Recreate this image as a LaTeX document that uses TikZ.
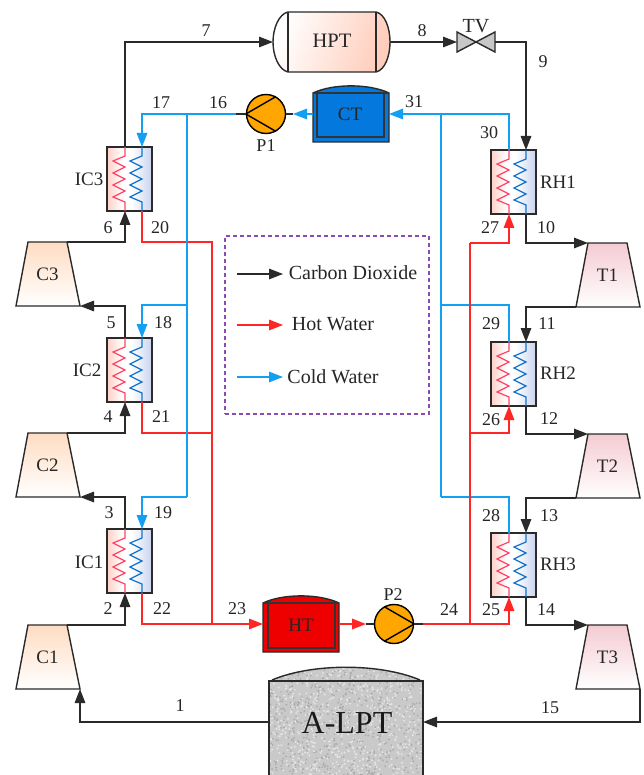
\documentclass[tikz,border=0pt]{standalone}
\usepackage{fontspec}
\setmainfont{Liberation Serif}
\usetikzlibrary{arrows.meta}
\definecolor{hotc}{HTML}{FF2626}
\definecolor{coldc}{HTML}{14A0F2}
\definecolor{inkc}{HTML}{2A2A2A}
\definecolor{coilr}{HTML}{FF4565}
\definecolor{coilb}{HTML}{1272CC}
\definecolor{purp}{HTML}{8A4BB5}
\definecolor{hxpink}{HTML}{FFCFC6}
\definecolor{hxblue}{HTML}{C8D4EE}
\pgfdeclarehorizontalshading{hxshade}{100bp}{color(0bp)=(hxpink); color(25bp)=(hxpink); color(42bp)=(white); color(52bp)=(white); color(75bp)=(hxblue); color(100bp)=(hxblue)}
\tikzset{
 co2line/.style={draw=inkc,line width=1.4pt,line join=miter},
 hotline/.style={draw=hotc,line width=1.5pt},
 coldline/.style={draw=coldc,line width=1.5pt},
 arr/.style={-{Triangle[length=14pt,width=10.5pt]}},
 lab/.style={inner sep=0pt,font=\fontsize{18}{18}\selectfont,text=black!85},
 name19/.style={inner sep=0pt,font=\fontsize{19}{19}\selectfont,text=black!85},
 name20/.style={inner sep=0pt,font=\fontsize{20}{20}\selectfont,text=black!85},
 hxbox/.style={draw=inkc,line width=1.4pt,minimum width=45pt,minimum height=64pt,inner sep=0pt,shading=hxshade},
 pump/.style={circle,draw=black,fill=orange!70!yellow,line width=1.4pt,minimum size=39pt,inner sep=0pt},
 machine/.style={draw=inkc,line width=1.4pt,line join=miter},
}
\newcommand{\hxunit}[3]{%
 \node[hxbox] (#1) at (#2+22.5,#3+32) {};
 \draw[coilr,line width=1.2pt] (#2+18,#3) -- ++(0,9) -- ++(-12,5) -- ++(12,6) -- ++(-12,6) -- ++(12,6) -- ++(-12,6) -- ++(12,6) -- ++(-12,6) -- ++(12,5) -- (#2+18,#3+64);
 \draw[coilb,line width=1.2pt] (#2+35,#3) -- ++(0,9) -- ++(-12,5) -- ++(12,6) -- ++(-12,6) -- ++(12,6) -- ++(-12,6) -- ++(12,6) -- ++(-12,6) -- ++(12,5) -- (#2+35,#3+64);
 \coordinate (#1rt) at (#2+18,#3);
 \coordinate (#1rb) at (#2+18,#3+64);
 \coordinate (#1bt) at (#2+35,#3);
 \coordinate (#1bb) at (#2+35,#3+64);
}
\newcommand{\trapez}[5]{% name, top-left x, top y, colour, label
 \draw[machine,top color=#4,bottom color=white] (#2,#3) -- (#2+39,#3) -- (#2+52,#3+64) -- (#2-12,#3+64) -- cycle;
 \node[name19] (#1) at (#2+19.5,#3+32) {#5};
 \coordinate (#1tl) at (#2,#3);
 \coordinate (#1tr) at (#2+39,#3);
 \coordinate (#1bl) at (#2-12,#3+64);
 \coordinate (#1br) at (#2+52,#3+64);
}
\newcommand{\tank}[9]{% name x0 x1 top bottom innerx0 innerx1 innerbottom fill
 \draw[machine,fill=#9] (#2,#4) .. controls (#2+20,#4-9.5) and (#3-20,#4-9.5) .. (#3,#4) -- (#3,#5) -- (#2,#5) -- cycle;
 \draw[draw=black!80,line width=1.4pt] (#2,#4) -- (#3,#4);
 \draw[draw=black!80,line width=1.4pt] (#6,#4) -- (#6,#8) -- (#7,#8) -- (#7,#4);
}
\newcommand{\lbl}[4]{\node[lab] (#1) at (#2,#3) {#4};}
\begin{document}
\begin{tikzpicture}[x=1pt,y=-1pt]
\useasboundingbox (0,0) rectangle (643,775);
\fill[white] (0,0) rectangle (643,775);

% exchangers
\hxunit{IC3}{107}{147}
\hxunit{IC2}{107}{338}
\hxunit{IC1}{107}{529}
\hxunit{RH1}{491}{150}
\hxunit{RH2}{491}{342}
\hxunit{RH3}{491}{533}

% compressors and turbines
\definecolor{compc}{HTML}{FFDCC2}
\definecolor{turbc}{HTML}{F4CBD3}
\trapez{C3}{28}{242}{compc}{C3}
\trapez{C2}{28}{433}{compc}{C2}
\trapez{C1}{28}{625}{compc}{C1}
\trapez{T1}{588}{243}{turbc}{T1}
\trapez{T2}{588}{434}{turbc}{T2}
\trapez{T3}{588}{625}{turbc}{T3}

% HPT
\definecolor{hptc}{HTML}{FFCDBB}
\draw[machine,left color=white,middle color=white,right color=hptc,shading angle=70]
 (288,12) -- (376,12) .. controls (385,14) and (390,28) .. (390,42) .. controls (390,56) and (385,70) .. (376,72)
 -- (288,72) .. controls (279,70) and (273,56) .. (273,42) .. controls (273,28) and (279,14) .. (288,12) -- cycle;
\draw[draw=inkc,line width=1.2pt] (288,12) -- (288,72) (376,12) -- (376,72);
\node[inner sep=0pt,font=\fontsize{20.5}{20.5}\selectfont,text=black!85] (HPT) at (332,41) {HPT};
\coordinate (HPTin) at (273,42);
\coordinate (HPTout) at (390,42);

% valve
\draw[machine,fill=black!22] (457,32) -- (495,52) -- (495,32) -- (457,52) -- cycle;
\node[name20] (TV) at (476,26) {TV};
\coordinate (TVl) at (457,42);
\coordinate (TVr) at (495,42);

% tanks
\definecolor{ctblue}{HTML}{0478DC}
\tank{CTt}{313}{389}{93}{142}{317}{384}{137}{ctblue}
\node[name19] (CT) at (350,114) {CT};
\coordinate (CTl) at (313,114);
\coordinate (CTr) at (389,114);
\definecolor{htred}{HTML}{EE0000}
\tank{HTt}{263}{339}{603}{652}{268}{335}{648}{htred}
\node[name19] (HT) at (301,625) {HT};
\coordinate (HTl) at (263,624);
\coordinate (HTr) at (339,624);

% A-LPT with grainy fill
\begin{scope}
 \clip (269,681) .. controls (310,663) and (382,663) .. (423,681) -- (423,775) -- (269,775) -- cycle;
 \fill[black!21] (265,660) rectangle (427,776);
 \pgfmathsetseed{7}
 \foreach \i in {1,...,1300}{
  \pgfmathsetmacro{\px}{269+154*rnd}
  \pgfmathsetmacro{\py}{664+111*rnd}
  \pgfmathsetmacro{\pr}{rnd}
  \ifdim\pr pt<0.5pt
   \fill[black!10] (\px,\py) circle (1.1pt);
  \else
   \fill[black!33] (\px,\py) circle (1pt);
  \fi
 }
\end{scope}
\draw[machine] (269,775) -- (269,681) -- (423,681) -- (423,775);
\draw[machine] (272,680) .. controls (312,663) and (380,663) .. (420,680);
\node[inner sep=0pt,font=\fontsize{32}{32}\selectfont,text=black!90] (ALPT) at (347,723) {A-LPT};
\coordinate (ALPTl) at (269,722);
\coordinate (ALPTr) at (423,722);

% pumps
\node[pump] (P1) at (266,114) {};
\draw[line width=1.4pt] (P1.west) -- (P1.60) (P1.west) -- (P1.-60);
\node[pump] (P2) at (394,624) {};
\draw[line width=1.4pt] (P2.east) -- (P2.120) (P2.east) -- (P2.240);
\coordinate (P1st) at (293,114);
\coordinate (P1i) at (237,114);
\coordinate (P2st) at (366,624);
\coordinate (P2o) at (422,624);

% junctions
\coordinate (jh1) at (212,242);
\coordinate (jh2) at (212,433);
\coordinate (jh3) at (212,624);
\coordinate (jr1) at (470,243);
\coordinate (jr2) at (470,433);
\coordinate (jr3) at (470,624);
\coordinate (jc0) at (187,114);
\coordinate (jc1) at (187,305);
\coordinate (jc2) at (187,497);
\coordinate (jd0) at (441,114);
\coordinate (jd1) at (441,305);
\coordinate (jd2) at (441,497);

% hot water, left
\draw[hotline] (IC3bb) |- (jh1) -- (jh3);
\draw[hotline] (IC2bb) |- (jh2);
\draw[hotline,arr] (IC1bb) |- (HTl);
% cold water, left
\draw[coldline,arr] (P1i) -| (IC3bt);
\draw[coldline] (jc0) -- (jc2);
\draw[coldline,arr] (jc1) -| (IC2bt);
\draw[coldline,arr] (jc2) -| (IC1bt);
\draw[coldline,arr] (CTl) -- (P1st);
% cold water, right
\draw[coldline,arr] (RH1rt) |- (CTr);
\draw[coldline] (jd0) -- (jd2);
\draw[coldline] (jd1) -| (RH2rt);
\draw[coldline] (jd2) -| (RH3rt);
% hot water, right
\draw[hotline,arr] (HTr) -- (P2st);
\draw[hotline,arr] (P2o) -| (RH3rb);
\draw[hotline] (jr3) -- (jr1);
\draw[hotline,arr] (jr1) -| (RH1rb);
\draw[hotline,arr] (jr2) -| (RH2rb);
% pump stubs
\draw[co2line] (P1.east) -- (P1st);
\draw[co2line] (P1.west) -- ++(-10,0);
\draw[co2line] (P2st) -- (P2.west);
\draw[co2line] (P2.east) -- ++(9,0);

% carbon dioxide
\draw[co2line,arr] (ALPTl) -| (C1br);
\draw[co2line,arr] (C1tr) -| (IC1rb);
\draw[co2line,arr] (IC1rt) |- (C2br);
\draw[co2line,arr] (C2tr) -| (IC2rb);
\draw[co2line,arr] (IC2rt) |- (C3br);
\draw[co2line,arr] (C3tr) -| (IC3rb);
\draw[co2line,arr] (IC3rt) |- (HPTin);
\draw[co2line,arr] (HPTout) -- (TVl);
\draw[co2line,arr] (TVr) -| (RH1bt);
\draw[co2line,arr] (RH1bb) |- (T1tl);
\draw[co2line,arr] (T1bl) -| (RH2bt);
\draw[co2line,arr] (RH2bb) |- (T2tl);
\draw[co2line,arr] (T2bl) -| (RH3bt);
\draw[co2line,arr] (RH3bb) |- (T3tl);
\draw[co2line,arr] (T3br) |- (ALPTr);

% legend
\node[draw=purp,line width=1.4pt,dash pattern=on 4pt off 3pt,minimum width=204pt,minimum height=178pt,inner sep=0pt] (legend) at (327,325) {};
\coordinate (l1a) at (237,274); \coordinate (l1b) at (283,274);
\coordinate (l2a) at (237,325); \coordinate (l2b) at (283,325);
\coordinate (l3a) at (237,377); \coordinate (l3b) at (283,377);
\draw[co2line,arr] (l1a) -- (l1b);
\draw[hotline,arr] (l2a) -- (l2b);
\draw[coldline,arr] (l3a) -- (l3b);
\node[name20] (tCO2) at (353,273) {Carbon Dioxide};
\node[name20] (tHot) at (333,324) {Hot Water};
\node[name20] (tCold) at (333,377) {Cold Water};

% unit labels
\node[name19] (tIC3) at (89,179) {IC3};
\node[name19] (tIC2) at (87,370) {IC2};
\node[name19] (tIC1) at (89,562) {IC1};
\node[name19] (tRH1) at (558,182) {RH1};
\node[name19] (tRH2) at (558,373) {RH2};
\node[name19] (tRH3) at (558,564) {RH3};
\node[lab] (tP1) at (266,146) {P1};
\node[lab] (tP2) at (393,595) {P2};

% state numbers
\lbl{n1}{180}{706}{1}
\lbl{n2}{108}{609}{2}
\lbl{n3}{109}{513}{3}
\lbl{n4}{108}{417}{4}
\lbl{n5}{111}{323}{5}
\lbl{n6}{108}{228}{6}
\lbl{n7}{206}{31}{7}
\lbl{n8}{422}{31}{8}
\lbl{n9}{543}{62}{9}
\lbl{n10}{546}{228}{10}
\lbl{n11}{547}{324}{11}
\lbl{n12}{549}{419}{12}
\lbl{n13}{549}{516}{13}
\lbl{n14}{546}{610}{14}
\lbl{n15}{550}{708}{15}
\lbl{n16}{218}{103}{16}
\lbl{n17}{161}{103}{17}
\lbl{n18}{163}{323}{18}
\lbl{n19}{163}{513}{19}
\lbl{n20}{160}{228}{20}
\lbl{n21}{161}{417}{21}
\lbl{n22}{162}{609}{22}
\lbl{n23}{237}{609}{23}
\lbl{n24}{449}{610}{24}
\lbl{n25}{491}{610}{25}
\lbl{n26}{491}{420}{26}
\lbl{n27}{490}{228}{27}
\lbl{n28}{491}{516}{28}
\lbl{n29}{491}{324}{29}
\lbl{n30}{489}{133}{30}
\lbl{n31}{414}{102}{31}
\end{tikzpicture}
\end{document}
